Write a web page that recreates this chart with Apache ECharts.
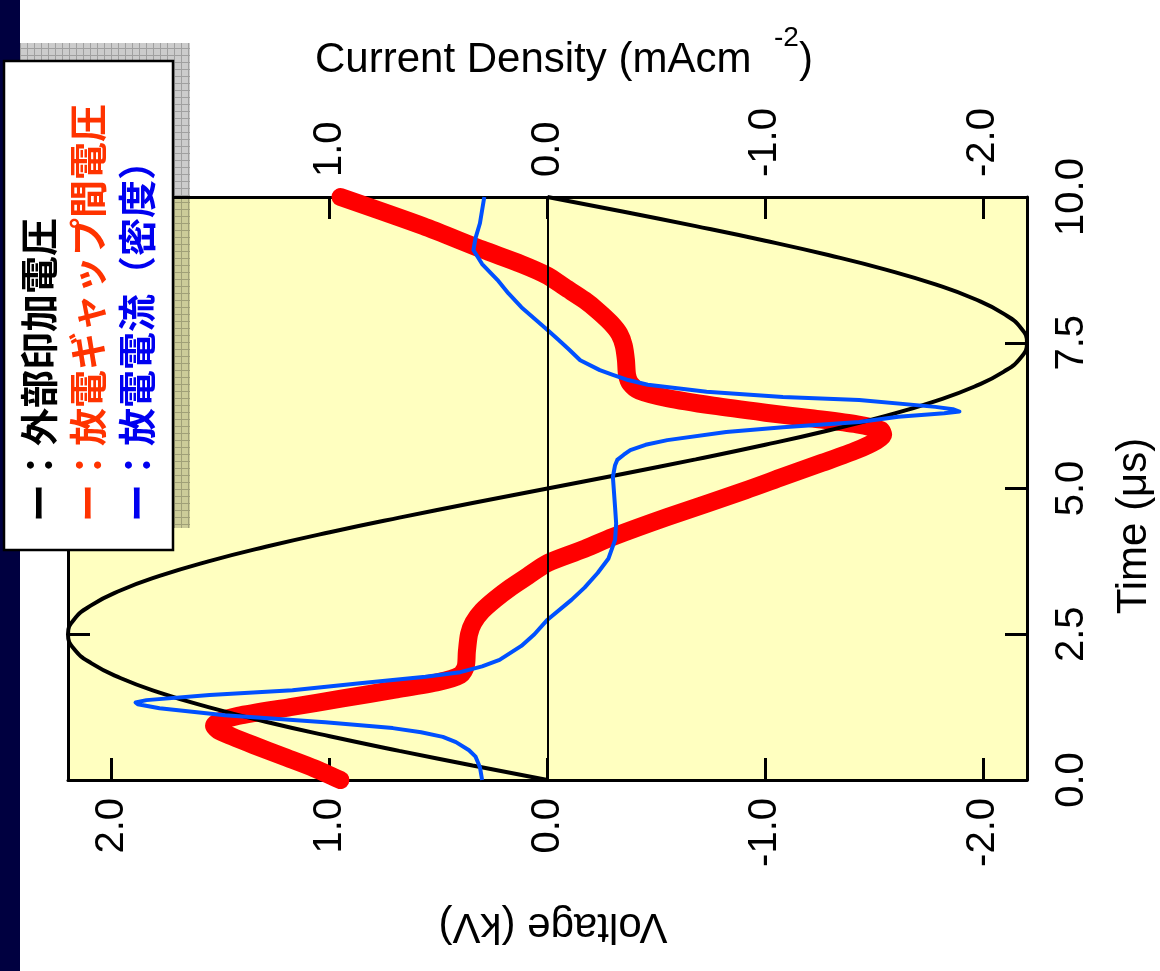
<!DOCTYPE html>
<html><head><meta charset="utf-8">
<script src="https://cdn.jsdelivr.net/npm/echarts@6/dist/echarts.min.js"></script>
<style>html,body{margin:0;padding:0;background:#fff}#c{width:1160px;height:971px}</style>
</head><body><div id="c"></div>
<script>
// ---- data ----
const appliedTime = [0,0.25,0.5,0.75,1,1.25,1.5,1.75,2,2.25,2.5,2.75,3,3.25,3.5,3.75,4,4.25,4.5,4.75,5,5.25,5.5,5.75,6,6.25,6.5,6.75,7,7.25,7.5,7.75,8,8.25,8.5,8.75,9,9.25,9.5,9.75,10];
const appliedVoltage = [0,0.344,0.68,0.999,1.293,1.556,1.78,1.96,2.092,2.173,2.2,2.173,2.092,1.96,1.78,1.556,1.293,0.999,0.68,0.344,0,-0.344,-0.68,-0.999,-1.293,-1.556,-1.78,-1.96,-2.092,-2.173,-2.2,-2.173,-2.092,-1.96,-1.78,-1.556,-1.293,-0.999,-0.68,-0.344,0];

const gapTime = [0,0.2,0.4,0.6,0.75,0.85,0.93,1.0,1.1,1.25,1.4,1.55,1.68,1.8,1.95,2.2,2.5,2.7,2.9,3.1,3.3,3.5,3.72,3.95,4.17,4.51,4.97,5.2,5.44,5.66,5.82,5.92,6.0,6.1,6.2,6.3,6.42,6.55,6.68,6.8,6.95,7.2,7.45,7.65,7.84,8.05,8.23,8.45,8.65,8.85,9.1,9.5,10];
const gapVoltage = [0.95,1.07,1.21,1.35,1.45,1.51,1.53,1.51,1.42,1.18,0.94,0.7,0.5,0.4,0.375,0.37,0.36,0.34,0.3,0.24,0.17,0.09,0,-0.16,-0.3,-0.55,-0.91,-1.08,-1.26,-1.42,-1.51,-1.54,-1.53,-1.42,-1.22,-1,-0.76,-0.55,-0.42,-0.38,-0.365,-0.36,-0.35,-0.33,-0.29,-0.23,-0.17,-0.08,0,0.12,0.3,0.57,0.95];

const currentTime = [0,0.22,0.4,0.51,0.65,0.74,0.82,0.89,0.99,1.11,1.23,1.3,1.33,1.37,1.46,1.54,1.66,1.77,1.85,1.95,2.06,2.3,2.5,2.75,3.09,3.3,3.55,3.8,4.12,4.4,4.68,5.2,5.4,5.49,5.58,5.66,5.75,5.83,5.97,6.05,6.14,6.23,6.29,6.32,6.36,6.4,6.52,6.57,6.66,6.78,6.86,6.95,7.03,7.2,7.38,7.55,7.72,8.11,8.35,8.58,8.85,9.09,9.3,9.55,10];
const currentDensity = [0.3,0.31,0.33,0.36,0.42,0.48,0.58,0.71,1.02,1.48,1.78,1.88,1.89,1.84,1.55,1.17,0.86,0.56,0.4,0.3,0.22,0.12,0.06,0,-0.11,-0.17,-0.23,-0.28,-0.31,-0.315,-0.31,-0.3,-0.31,-0.32,-0.35,-0.38,-0.45,-0.55,-0.82,-1.08,-1.43,-1.61,-1.82,-1.89,-1.86,-1.78,-1.43,-1.08,-0.73,-0.46,-0.37,-0.3,-0.24,-0.15,-0.1,-0.05,0,0.12,0.18,0.23,0.3,0.34,0.33,0.31,0.29];

const voltageTicks = [2,1,0,-1,-2];
const currentTicks = [1,0,-1,-2];
const timeTicks = [0,2.5,5,7.5,10];

const legendLabels = ['ー：外部印加電圧','ー：放電ギャップ間電圧','ー：放電電流（密度）'];
const legendColors = ['#000000','#FF3300','#0000F0'];

// ---- chart ----
const FONT = "'Liberation Sans', Arial, Helvetica, sans-serif";
const CJK = "'Noto Sans CJK JP', 'Noto Sans CJK SC', sans-serif";
const fmt = v => Number(v).toFixed(1);
const pairs = (ts, vs) => ts.map((t, i) => [vs[i], t]);

function gridPattern() {
  const c = document.createElement('canvas'); c.width = 7; c.height = 7;
  const g = c.getContext('2d');
  g.fillStyle = 'rgba(0,0,0,0.2)'; g.fillRect(0, 0, 7, 7);
  g.fillStyle = 'rgba(0,0,0,0.22)'; g.fillRect(6, 0, 1, 7); g.fillRect(0, 6, 6, 1);
  return c;
}

const chart = echarts.init(document.getElementById('c'), null, {renderer: 'canvas'});
const axisLine = {show: true, onZero: false, lineStyle: {color: '#000', width: 3}};
const tickStyle = {color: '#000', width: 3};
const labelBase = {fontSize: 40, fontFamily: FONT, color: '#000', formatter: fmt};

const option = {
  animation: false,
  backgroundColor: '#ffffff',
  grid: {left: 68, top: 197, width: 959, height: 583, show: true, backgroundColor: '#FFFFC0', borderWidth: 0},
  xAxis: [
    {type: 'value', min: -2.2, max: 2.2, inverse: true, position: 'bottom',
     axisLine: axisLine,
     axisTick: {show: true, inside: true, length: 22, lineStyle: tickStyle, customValues: voltageTicks},
     axisLabel: Object.assign({rotate: 90, margin: 18, customValues: voltageTicks}, labelBase),
     splitLine: {show: false}},
    {type: 'value', min: -2.2, max: 2.2, inverse: true, position: 'top',
     axisLine: axisLine,
     axisTick: {show: true, inside: true, length: 22, lineStyle: tickStyle, customValues: currentTicks},
     axisLabel: Object.assign({rotate: -90, margin: 20, customValues: currentTicks}, labelBase),
     splitLine: {show: false}}
  ],
  yAxis: [
    {type: 'value', min: 0, max: 10, interval: 2.5, position: 'right',
     axisLine: axisLine,
     axisTick: {show: true, inside: true, length: 22, lineStyle: tickStyle, customValues: timeTicks},
     axisLabel: Object.assign({rotate: 90, margin: 25, customValues: timeTicks}, labelBase),
     splitLine: {show: false}},
    {type: 'value', min: 0, max: 10, interval: 2.5, position: 'left',
     axisLine: axisLine,
     axisTick: {show: true, inside: true, length: 22, lineStyle: tickStyle, customValues: timeTicks},
     axisLabel: {show: false},
     splitLine: {show: false}}
  ],
  series: [
    {name: 'gap', type: 'line', xAxisIndex: 0, yAxisIndex: 0, data: pairs(gapTime, gapVoltage),
     showSymbol: false, smooth: 0.25, clip: false, z: 2,
     lineStyle: {color: '#FF0000', width: 18, cap: 'round', join: 'round'}},
    {name: 'applied', type: 'line', xAxisIndex: 0, yAxisIndex: 0, data: pairs(appliedTime, appliedVoltage),
     showSymbol: false, smooth: true, z: 3,
     lineStyle: {color: '#000000', width: 4},
     markLine: {silent: true, symbol: 'none', label: {show: false},
       lineStyle: {color: '#000', width: 2, type: 'solid'}, data: [{xAxis: 0}]}},
    {name: 'current', type: 'line', xAxisIndex: 1, yAxisIndex: 0, data: pairs(currentTime, currentDensity),
     showSymbol: false, smooth: false, z: 4,
     lineStyle: {color: '#0050FF', width: 4, join: 'round'}}
  ],
  graphic: [
    {type: 'rect', z: 1, shape: {x: 0, y: 0, width: 20, height: 971}, style: {fill: '#000040'}},
    {type: 'rect', z: 50, shape: {x: 20, y: 43, width: 170, height: 485}, style: {fill: {image: gridPattern(), repeat: 'repeat'}}},
    {type: 'rect', z: 51, shape: {x: 4, y: 61, width: 169, height: 489}, style: {fill: '#ffffff', stroke: '#000', lineWidth: 2.5}},
    ...legendLabels.map((t, i) => ({type: 'text', z: 52, x: 39 + i * 49, y: 522, rotation: Math.PI / 2,
      style: {text: t, fill: legendColors[i], font: 'bold 38px ' + CJK,
        align: 'left', textAlign: 'left', verticalAlign: 'middle', textVerticalAlign: 'middle'}})),
    {type: 'text', z: 20, x: 315, y: 60,
      style: {text: 'Current Density (mAcm', fill: '#000', font: '42px ' + FONT, align: 'left', textAlign: 'left', verticalAlign: 'middle', textVerticalAlign: 'middle'}},
    {type: 'text', z: 20, x: 774, y: 38,
      style: {text: '-2', fill: '#000', font: '28px ' + FONT, align: 'left', textAlign: 'left', verticalAlign: 'middle', textVerticalAlign: 'middle'}},
    {type: 'text', z: 20, x: 799, y: 60,
      style: {text: ')', fill: '#000', font: '42px ' + FONT, align: 'left', textAlign: 'left', verticalAlign: 'middle', textVerticalAlign: 'middle'}},
    {type: 'text', z: 20, x: 1134, y: 526, rotation: Math.PI / 2,
      style: {text: 'Time (μs)', fill: '#000', font: '42px ' + FONT, align: 'center', textAlign: 'center', verticalAlign: 'middle', textVerticalAlign: 'middle'}},
    {type: 'text', z: 20, x: 553, y: 926, rotation: Math.PI,
      style: {text: 'Voltage (kV)', fill: '#000', font: '42px ' + FONT, align: 'center', textAlign: 'center', verticalAlign: 'middle', textVerticalAlign: 'middle'}}
  ]
};
chart.setOption(option);
</script>
</body></html>
